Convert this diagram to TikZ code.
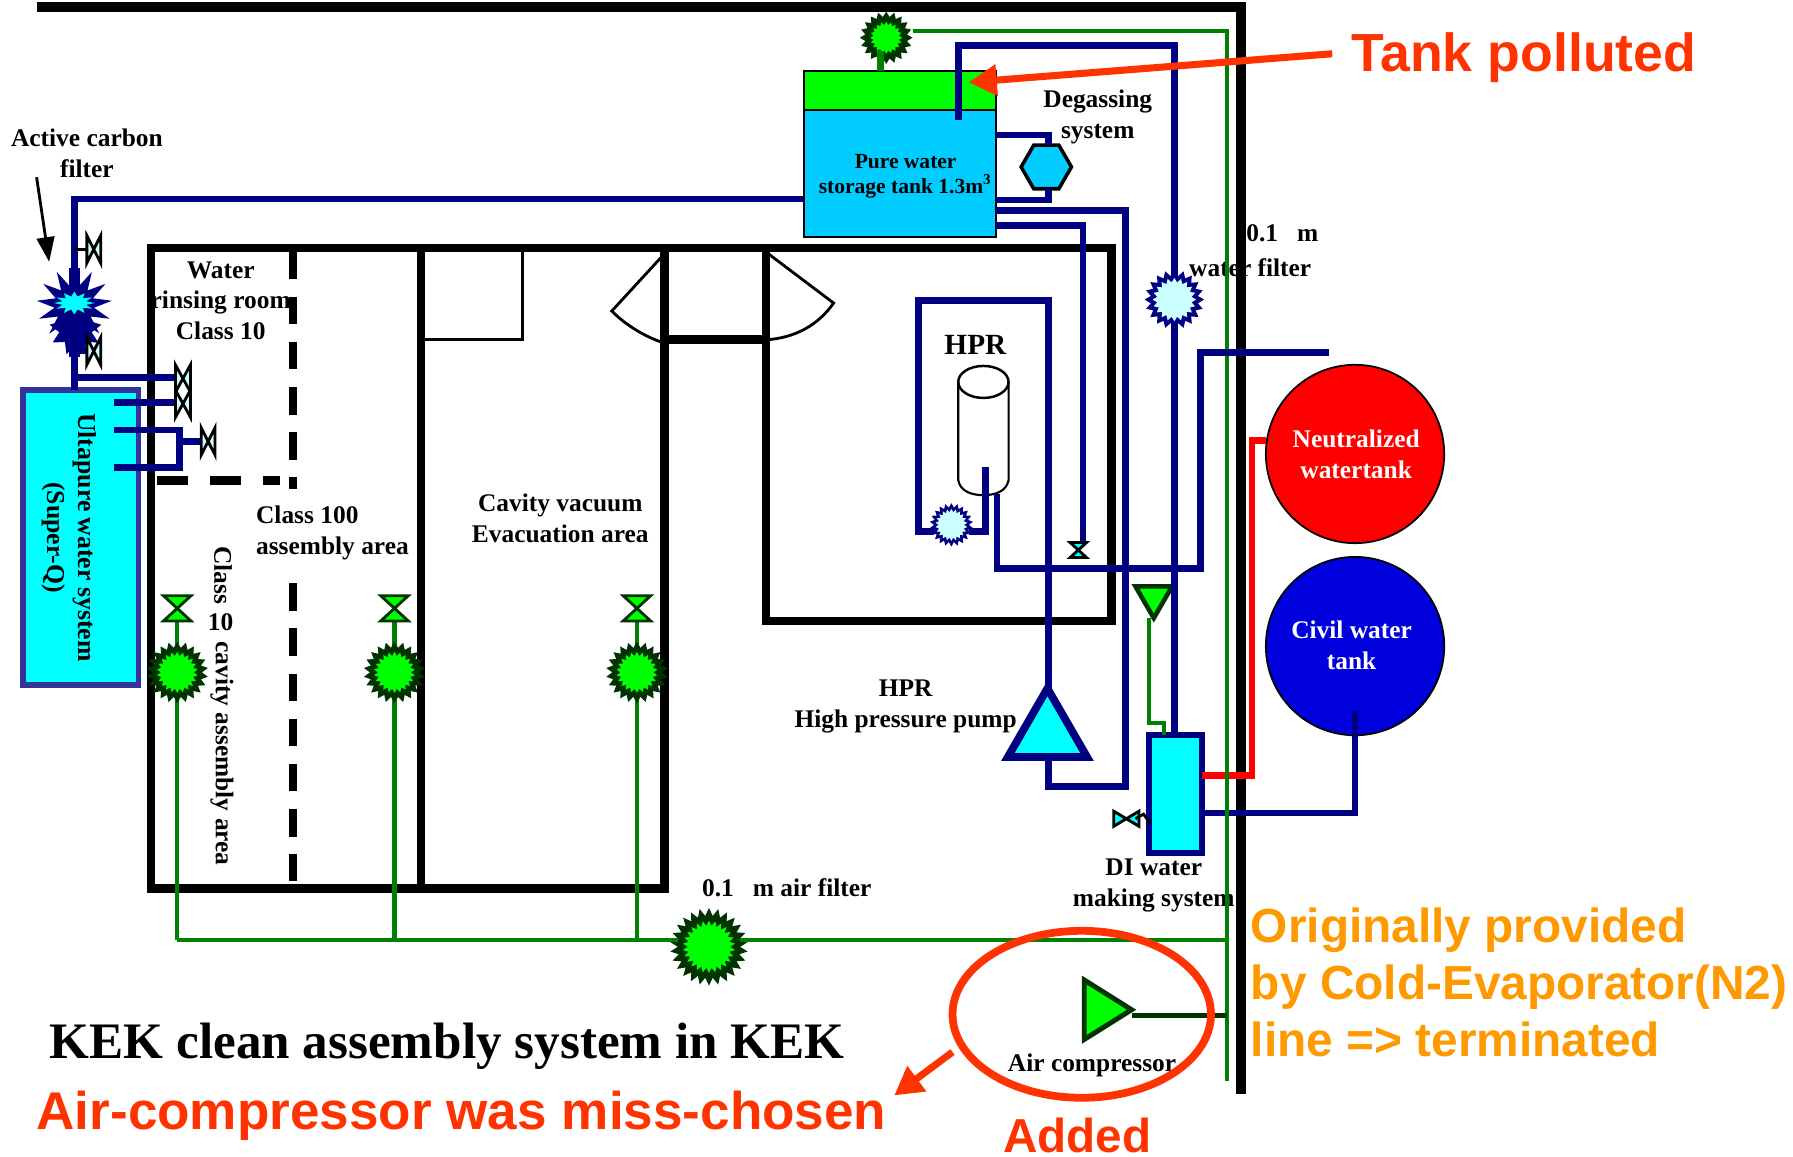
\documentclass[tikz,border=0pt]{standalone}
\usepackage{fontspec}
\setmainfont{Liberation Serif}
\newfontfamily\notefont{Liberation Sans}
\usetikzlibrary{shapes.geometric,arrows.meta}
\definecolor{Pipe}{HTML}{000080}
\definecolor{AirLine}{HTML}{008000}
\definecolor{AirDark}{HTML}{003300}
\definecolor{Lime}{HTML}{00FF00}
\definecolor{Aqua}{HTML}{00FFFF}
\definecolor{TankBlue}{HTML}{00CCFF}
\definecolor{Pale}{HTML}{CCFFFF}
\definecolor{BoxEdge}{HTML}{333399}
\definecolor{Note}{HTML}{FF3300}
\definecolor{NoteGold}{HTML}{FF9900}
\definecolor{Civil}{HTML}{0000DD}
\newcommand{\un}{0.3241pt}

\begin{document}
\begin{tikzpicture}[x=0.3241pt,y=-0.3241pt,
every node/.style={inner sep=0pt,outer sep=0pt},
lab/.style={font=\fontsize{7.2}{8.75}\selectfont\bfseries,align=center,text=black},
big/.style={font=\notefont\fontsize{15.2}{16}\selectfont\bfseries,text=Note},
gold/.style={font=\notefont\fontsize{13.55}{16.2}\selectfont\bfseries,text=NoteGold,align=left},
wall/.style={draw=black,line width=2.4pt,line join=miter},
thin/.style={draw=black,line width=0.8pt},
pipe/.style={draw=Pipe,line width=1.9pt},
air/.style={draw=AirLine,line width=1.2pt},
noteline/.style={draw=Note,line width=2pt,-{Triangle[length=8pt,width=8.5pt]}},
box/.style 2 args={rectangle,minimum width=#1*\un,minimum height=#2*\un},
burr/.style 2 args={star,star points=#1,star point ratio=1.25,minimum size=#2*\un,draw=none},
pics/valve/.style={code={\draw[draw=black,line width=0.8pt,fill=#1] (-12,-11)--(12,-11)--(-12,11)--(12,11)--cycle;}},
pics/airvalve/.style={code={\draw[draw=AirDark,line width=0.8pt,fill=Lime] (-12,-11)--(12,-11)--(-12,11)--(12,11)--cycle;}}]
\useasboundingbox[fill=white] (0,0) rectangle (1568,1011);

% text that the walls run over
\node[lab] (rinsetext) at (193,263) {Water\\rinsing room\\Class 10};
\node[lab,anchor=west] (waterfilter) at (1040,234) {water filter};
\node[lab,anchor=west] (pointone) at (1090,204) {0.1\hspace{.75em}m};
\node[lab] (ditext) at (1009,774) {DI water\\making system};

% building walls
\draw[wall,line width=2.8pt] (32,6)--(1085,6)--(1085,957);
\draw[wall] (132,217) rectangle (581,777);
\draw[wall] (368,217)--(368,777);
\draw[wall] (581,217)--(972,217)--(972,543)--(670,543)--(670,217);
\draw[wall] (581,297)--(670,297);
\draw[thin] (372,297)--(457,297)--(457,220);
\draw[thin] (581,222)--(535,272) .. controls (548,285) and (565,295) .. (581,300);
\draw[thin] (672,222)--(729,265) .. controls (715,285) and (695,295) .. (672,297);
\draw[wall,dash pattern=on 7.8pt off 5pt] (256,220)--(256,428);
\draw[wall,dash pattern=on 7.8pt off 5pt] (256,510)--(256,770);
\draw[wall,dash pattern=on 9pt off 6pt] (137,420)--(245,420);

% air side
\node[burr={20}{46},fill=AirDark] (tankvent) at (775,33) {};
\node[burr={20}{28},fill=Lime] at (tankvent) {};
\node[box={168}{34},fill=Lime,draw=black,line width=0.5pt] (tanktop) at (787,79) {};
\draw[air,line width=1.8pt] (770,45)--(tanktop.north -| 770,0);
\draw[air] (tankvent.east |- 0,27)--(1073,27)--(1073,945);
\node[burr={26}{68},fill=AirDark] (mainfilter) at (620,828) {};
\node[burr={26}{46},fill=Lime] (mainfiltercore) at (mainfilter) {};
\coordinate (airmain) at (155,822);
\draw[air] (airmain)--(mainfilter.west |- airmain);
\draw[air] (mainfilter.east |- airmain)--(1073,822);
\foreach \name/\xx in {a/155,b/345,c/557}{
\draw[air] (\xx,822)--(\xx,543);
\node[burr={22}{54},fill=AirDark] (filter\name) at (\xx,588) {};
\node[burr={22}{36},fill=Lime] at (filter\name) {};
\pic at (\xx,532) {airvalve};
}

% ultrapure unit
\node[box={101}{258},fill=Aqua,draw=BoxEdge,line width=1.5pt] (superq) at (70.5,470) {};
\node[lab,rotate=-90,font=\fontsize{7.3}{9}\selectfont\bfseries] (superqtext) at (74,470) {Ultapure water system};
\node[lab,rotate=-90,font=\fontsize{7.3}{9}\selectfont\bfseries] (superqname) at (47,470) {(Super-Q)};
\node[lab] (carbontext) at (76,134) {Active carbon\\filter};
\draw[pipe] (superq.north -| 65,0)--(65,174)--(705,174);
\draw[pipe] (65,330)--(157,330);
\draw[pipe] (100,352)--(157,352);
\draw[pipe] (100,376)--(157,376)--(157,409)--(100,409);
\draw[pipe] (157,386)--(175,386);
\draw[pipe] (65,307)--(78,307);
\draw[thin] (65,218)--(78,218);
\node[star,star points=13,star point ratio=1.9,minimum size=66*\un,fill=Pipe] (carbon) at (65,267) {};
\node[star,star points=9,star point ratio=1.6,minimum size=46*\un,fill=Pipe] (carbonlow) at (66,288) {};
\node[star,star points=12,star point ratio=1.7,minimum size=36*\un,fill=Aqua,yscale=.55] (carboncore) at (65,265) {};
\draw[draw=Pipe,line width=3pt] (65,234)--(65,250) (65,282)--(65,312);
\draw[thin,-{Triangle[length=7pt,width=5pt]}] (32,155)--(43,229);
\foreach \yy in {218,307}{\pic[xscale=.55,rotate=90] at (82,\yy) {valve=Pale};}
\pic[xscale=.6,rotate=90] at (160,331) {valve=Pale};
\pic[xscale=.6,rotate=90] at (160,353) {valve=Pale};
\pic[xscale=.55,rotate=90] at (182,386) {valve=Pale};

% water side
\node[box={168}{111},fill=TankBlue,draw=black,line width=0.5pt] (tank) at (787,151.5) {};
\node[lab,font=\fontsize{6.1}{7.1}\selectfont\bfseries] (tanktext) at (792,154) {Pure water\\storage tank 1.3m\textsuperscript{3}};
\node[regular polygon,regular polygon sides=6,minimum size=44*\un,fill=TankBlue,draw=black,line width=1pt] (degas) at (915,146) {};
\draw[pipe] (tank.east |- 0,118)--(917,118)--(degas.north -| 917,0);
\draw[pipe] (degas.south -| 917,0)--(917,175)--(tank.east |- 0,175);
\draw[pipe] (tank.east |- 0,197)--(947,197)--(947,475);
\pic[scale=.6] at (943,481) {valve=Aqua};
\node[draw=black,line width=0.7pt,ellipse,minimum width=44*\un,minimum height=28*\un] (hprtop) at (860,334) {};
\draw[thin,line width=0.6pt] (hprtop.west)--(838,420) .. controls (840,430) and (850,433) .. (860,433) .. controls (870,433) and (880,430) .. (882,420)--(hprtop.east);
\node[lab,font=\fontsize{8.3}{10}\selectfont\bfseries] (hprtext) at (853,302) {HPR};
\node[burr={22}{38},fill=Pipe] (hprfilter) at (832,459) {};
\node[burr={22}{28},fill=Pale] (hprfiltercore) at (hprfilter) {};
\node[regular polygon,regular polygon sides=3,minimum size=80*\un,fill=Aqua,draw=Pipe,line width=2.2pt] (pump) at (916,642) {};
\draw[pipe] (hprfilter.west |- 0,465)--(803,465)--(803,263)--(917,263)--(pump.corner 1 -| 917,0);
\draw[pipe] (hprfilter.east |- 0,465)--(862,465)--(862,408);
\draw[pipe] (tank.east |- 0,184)--(984,184)--(984,688)--(917,688)--(917,664);
\draw[pipe] (872,432)--(872,497)--(1050,497)--(1050,308)--(1162,308);
\node[regular polygon,regular polygon sides=3,shape border rotate=180,minimum size=37*\un,fill=Lime,draw=AirDark,line width=1.3pt] (gastrap) at (1009,522) {};
\node[box={46}{103},fill=Aqua,draw=Pipe,line width=1.8pt] (diunit) at (1028,694.5) {};
\draw[air] (gastrap.corner 1 -| 1005,0)--(1005,632)--(1018,632)--(diunit.north -| 1018,0);
\draw[pipe] (838,105)--(838,40)--(1027,40)--(1027,642);
\node[burr={20}{52},fill=Pipe] (waterfiltercase) at (1027,262) {};
\node[burr={20}{38},fill=Pale] (waterfiltercore) at (waterfiltercase) {};
\pic[xscale=1,yscale=.55,rotate=90] at (985,716) {valve=Aqua};
\draw[thin] (993,716)--(1000,712)--(1006,720);
\node[circle,minimum size=156*\un,fill=red,draw=black,line width=0.5pt] (neutral) at (1185,397) {};
\node[circle,minimum size=156*\un,fill=Civil,draw=black,line width=0.5pt] (civil) at (1185,565) {};
\node[lab,text=white] (neutraltext) at (1186,397) {Neutralized\\watertank};
\node[lab,text=white] (civiltext) at (1182,564) {Civil water\\tank};
\draw[draw=red,line width=1.9pt] (diunit.east |- 0,678)--(1095,678)--(1095,385)--(neutral.west |- 0,385);
\draw[pipe] (diunit.east |- 0,711)--(1185,711)--(1185,622);
\draw[air] (1073,670)--(1073,720);

% compressor
\node[regular polygon,regular polygon sides=3,shape border rotate=-90,minimum size=60*\un,fill=Lime,draw=AirDark,line width=1.4pt,xscale=.92] (compressor) at (962,883) {};
\coordinate (airjoin) at (1073,888);
\draw[draw=AirDark,line width=1.2pt] (compressor.corner 1 |- airjoin)--(airjoin);

% labels
\node[lab,align=left,anchor=west] (classhundred) at (224,466) {Class 100\\assembly area};
\node[lab] (vacuumtext) at (490,453) {Cavity vacuum\\Evacuation area};
\node[lab,rotate=-90] (classword) at (195,503) {Class};
\node[lab] (classten) at (193,544) {10};
\node[lab,rotate=-90] (cavitytext) at (194,659) {cavity assembly area};
\node[lab] (degastext) at (960,102) {Degassing\\system};
\node[lab] (pumptext) at (792,618) {HPR\\High pressure pump};
\node[lab,anchor=west] (airfiltertext) at (614,776) {0.1\hspace{.75em}m air filter};
\node[lab] (comprtext) at (955,932) {Air compressor};
\node[lab,font=\fontsize{14.5}{16}\selectfont\bfseries] (maintitle) at (391,915) {KEK clean assembly system in KEK};

% notes on top
\node[big,anchor=west] (pollutedtext) at (1182,50) {Tank polluted};
\coordinate (pollutetip) at (847,72);
\draw[noteline] (1165,47)--(pollutetip);
\node[draw=Note,line width=2.2pt,ellipse,minimum width=226*\un,minimum height=146*\un] (addedring) at (946,887) {};
\node[big,font=\notefont\fontsize{13.5}{16}\selectfont\bfseries] (addedtext) at (942,993) {Added};
\node[big,anchor=west,font=\notefont\fontsize{15.05}{16}\selectfont\bfseries] (misstext) at (32,976) {Air-compressor was miss-chosen};
\coordinate (ringedge) at (833,920);
\coordinate (misstip) at (782,958);
\draw[noteline] (ringedge)--(misstip);
\node[gold,anchor=north west] (goldtext) at (1094,794) {Originally provided\\by Cold-Evaporator(N2)\\line {=}{>} terminated};
\end{tikzpicture}
\end{document}
